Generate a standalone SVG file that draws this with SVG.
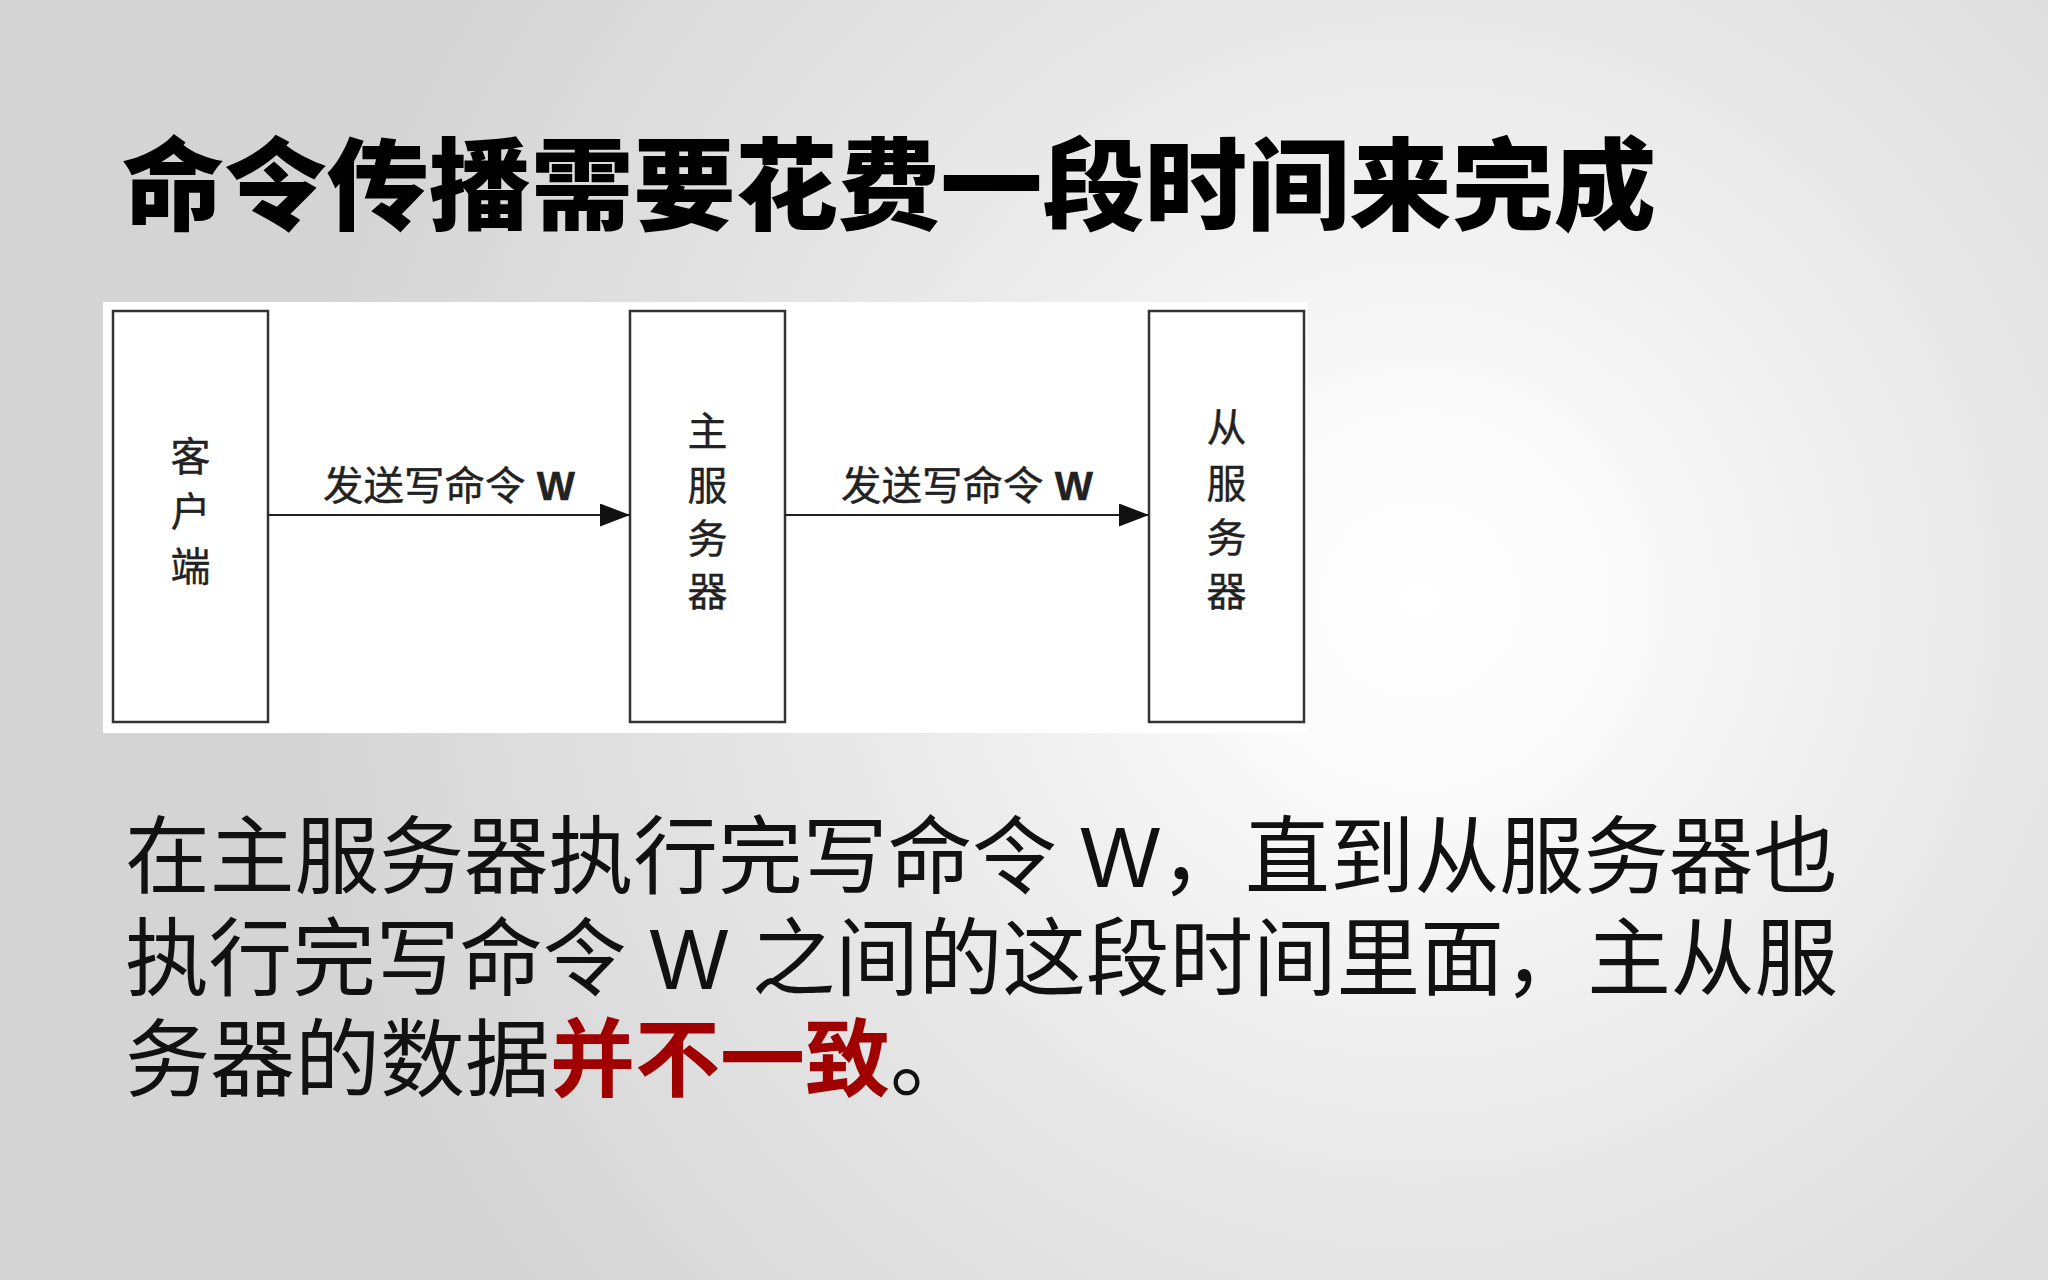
<svg xmlns="http://www.w3.org/2000/svg" width="2048" height="1280" viewBox="0 0 2048 1280">
<defs>
<radialGradient id="bg" gradientUnits="userSpaceOnUse" cx="1420" cy="600" r="1150">
<stop offset="0" stop-color="#ffffff"/>
<stop offset="0.15" stop-color="#fbfbfb"/>
<stop offset="0.45" stop-color="#ebebeb"/>
<stop offset="1" stop-color="#d4d4d4"/>
</radialGradient>
<marker id="arr" markerUnits="userSpaceOnUse" markerWidth="30" markerHeight="23" refX="30" refY="11.5" orient="auto">
<path d="M0,0 L30,11.5 L0,23 Z" fill="#111"/>
</marker>
</defs>
<style>
.title{font-family:"Noto Sans CJK SC","Noto Sans CJK JP",sans-serif;font-size:100px;font-weight:900;fill:#000}
.body{font-family:"Liberation Sans","Noto Sans CJK SC",sans-serif;font-size:85px;fill:#111}
.hl{font-weight:700;fill:#a00000}
.box{fill:#fff;stroke:#333;stroke-width:2.5}
.lbl{font-family:"Liberation Sans","Noto Sans CJK SC",sans-serif;font-size:40px;fill:#222;stroke:#222;stroke-width:0.4;text-anchor:middle}
.w{font-weight:700}
.edge{stroke:#222;stroke-width:2;fill:none}
</style>
<rect x="0" y="0" width="2048" height="1280" fill="url(#bg)"/>
<text class="title" x="122" y="222" textLength="1534" lengthAdjust="spacingAndGlyphs">命令传播需要花费一段时间来完成</text>
<rect x="103" y="302" width="1205" height="431" fill="#fff"/>
<g id="client">
<rect class="box" x="113" y="311" width="155" height="411"/>
<text class="lbl" x="190.5" y="471">客</text>
<text class="lbl" x="190.5" y="526">户</text>
<text class="lbl" x="190.5" y="581">端</text>
</g>
<g id="master">
<rect class="box" x="630" y="311" width="155" height="411"/>
<text class="lbl" x="707.5" y="446">主</text>
<text class="lbl" x="707.5" y="500">服</text>
<text class="lbl" x="707.5" y="553">务</text>
<text class="lbl" x="707.5" y="606">器</text>
</g>
<g id="slave">
<rect class="box" x="1149" y="311" width="155" height="411"/>
<text class="lbl" x="1226.5" y="442">从</text>
<text class="lbl" x="1226.5" y="498">服</text>
<text class="lbl" x="1226.5" y="552">务</text>
<text class="lbl" x="1226.5" y="606">器</text>
</g>
<g id="connectors">
<line class="edge" x1="268" y1="515" x2="630" y2="515" marker-end="url(#arr)"/>
<text class="lbl" x="449" y="500" textLength="252" lengthAdjust="spacingAndGlyphs">发送写命令 <tspan class="w">W</tspan></text>
<line class="edge" x1="785" y1="515" x2="1149" y2="515" marker-end="url(#arr)"/>
<text class="lbl" x="967" y="500" textLength="252" lengthAdjust="spacingAndGlyphs">发送写命令 <tspan class="w">W</tspan></text>
</g>
<text class="body" x="125" y="887" textLength="1713" lengthAdjust="spacingAndGlyphs">在主服务器执行完写命令 W，直到从服务器也</text>
<text class="body" x="125" y="989" textLength="1713" lengthAdjust="spacingAndGlyphs">执行完写命令 W 之间的这段时间里面，主从服</text>
<text class="body" x="125" y="1090">务器的数据<tspan class="hl">并不一致</tspan>。</text>
</svg>
